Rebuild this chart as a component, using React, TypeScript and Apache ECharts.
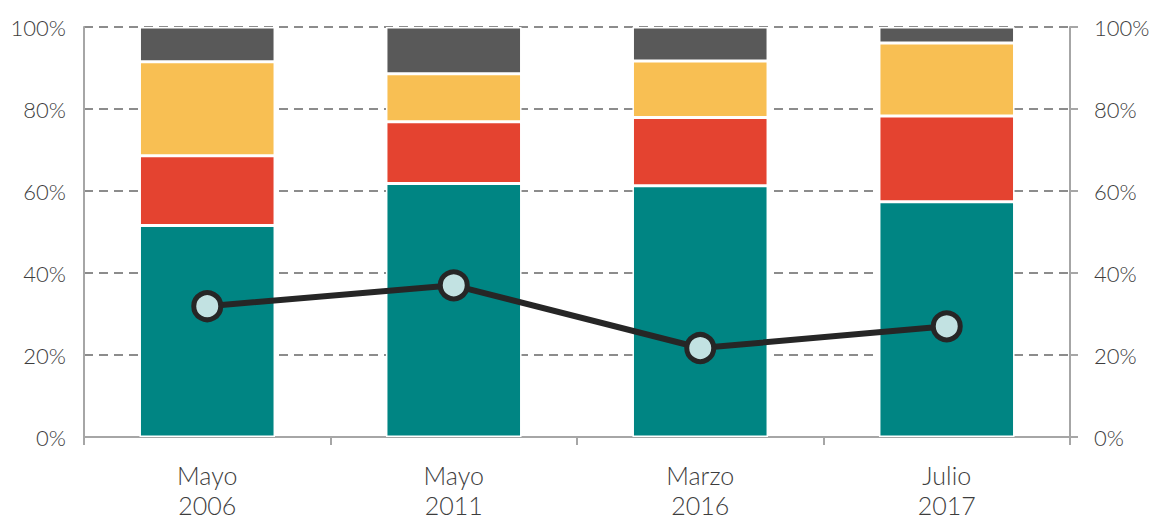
import React, { useEffect, useRef } from "react";
import * as echarts from "echarts";

const categories = ["Mayo\n2006", "Mayo\n2011", "Marzo\n2016", "Julio\n2017"];
const tealValues = [51.6, 61.8, 61.3, 57.4];
const redValues = [17.0, 15.1, 16.6, 20.9];
const yellowValues = [22.9, 11.7, 13.8, 17.8];
const darkValues = [8.5, 11.4, 8.3, 3.9];
const lineValues = [31.9, 37.0, 21.7, 27.0];
const tickLabels = [0, 20, 40, 60, 80, 100];

const FONT = "Lato, 'Open Sans', sans-serif";
const TEXT = "#3d3d3d";

export default function App() {
  const ref = useRef<HTMLDivElement>(null);
  useEffect(() => {
    if (!ref.current) return;
    const chart = echarts.init(ref.current, undefined, { renderer: "svg" });
    const barBase = {
      type: "bar",
      stack: "total",
      barWidth: "55%",
      itemStyle: { borderColor: "#ffffff", borderWidth: 1.5 },
    };
    const yAxisBase = {
      type: "value",
      min: 0,
      max: 100,
      interval: 20,
      axisLine: { show: true, lineStyle: { color: "#a6a6a6", width: 2 } },
      axisLabel: {
        color: TEXT,
        fontSize: 22,
        fontWeight: 300,
        fontFamily: FONT,
        formatter: (v: number) => (tickLabels.includes(v) ? v + "%" : ""),
      },
    };
    chart.setOption({
      animation: false,
      grid: { left: 84, right: 85, top: 27, bottom: 81, containLabel: false },
      xAxis: {
        type: "category",
        data: categories,
        axisLine: { lineStyle: { color: "#a6a6a6", width: 2 } },
        axisTick: { show: true, length: 8, lineStyle: { color: "#a6a6a6", width: 2 } },
        axisLabel: {
          color: TEXT,
          fontSize: 25,
          fontWeight: 300,
          lineHeight: 30,
          fontFamily: FONT,
          margin: 23,
        },
      },
      yAxis: [
        {
          ...yAxisBase,
          position: "left",
          axisTick: { show: false },
          axisLabel: { ...yAxisBase.axisLabel, margin: 18 },
          splitLine: { show: true, lineStyle: { color: "#8c8c8c", type: [9, 6], width: 2 } },
        },
        {
          ...yAxisBase,
          position: "right",
          axisTick: { show: true, length: 8, lineStyle: { color: "#a6a6a6", width: 2 } },
          axisLabel: { ...yAxisBase.axisLabel, margin: 24 },
          splitLine: { show: false },
        },
      ],
      series: [
        { ...barBase, name: "teal", data: tealValues, itemStyle: { ...barBase.itemStyle, color: "#008583" } },
        { ...barBase, name: "red", data: redValues, itemStyle: { ...barBase.itemStyle, color: "#e44330" } },
        { ...barBase, name: "yellow", data: yellowValues, itemStyle: { ...barBase.itemStyle, color: "#f8bf53" } },
        { ...barBase, name: "dark", data: darkValues, itemStyle: { ...barBase.itemStyle, color: "#595959" } },
        {
          type: "line",
          name: "line",
          data: lineValues,
          z: 10,
          symbol: "circle",
          symbolSize: 27,
          lineStyle: { color: "#262626", width: 6 },
          itemStyle: { color: "#c2e2e2", borderColor: "#262626", borderWidth: 5 },
        },
      ],
    });
    return () => chart.dispose();
  }, []);
  return (
    <div
      ref={ref}
      style={{ position: "absolute", left: 0, top: 0, width: 1155, height: 520 }}
    />
  );
}
